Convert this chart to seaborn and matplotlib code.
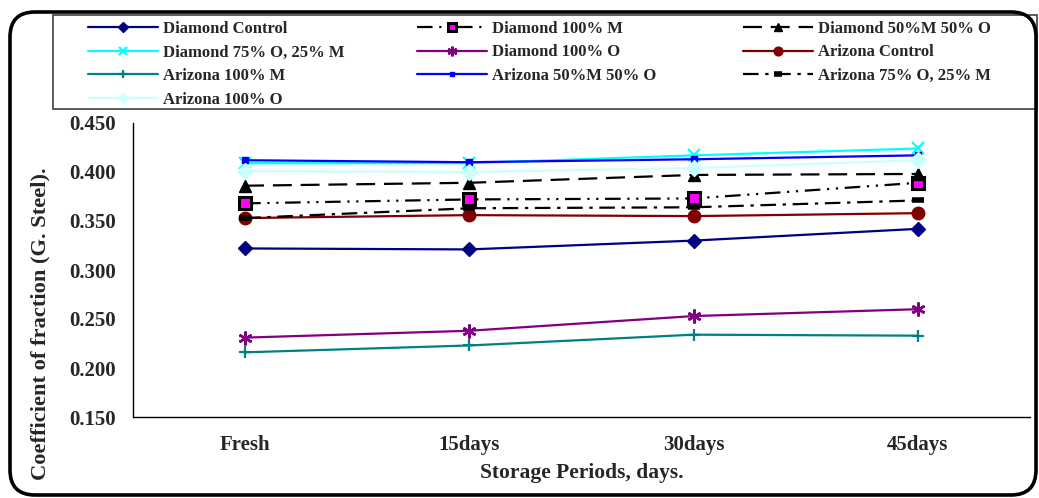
import numpy as np
import pandas as pd
import matplotlib
matplotlib.use("Agg")
import matplotlib.pyplot as plt
from matplotlib.patches import FancyBboxPatch, Rectangle
import seaborn as sns

categories = ["Fresh", "15days", "30days", "45days"]

diamond_control = [0.322, 0.321, 0.330, 0.342]
diamond_100m = [0.368, 0.372, 0.373, 0.389]
diamond_50m50o = [0.386, 0.389, 0.397, 0.398]
diamond_75o25m = [0.409, 0.409, 0.417, 0.424]
diamond_100o = [0.231, 0.238, 0.253, 0.260]
arizona_control = [0.353, 0.356, 0.355, 0.358]
arizona_100m = [0.216, 0.223, 0.234, 0.233]
arizona_50m50o = [0.412, 0.410, 0.413, 0.417]
arizona_75o25m = [0.353, 0.363, 0.364, 0.371]
arizona_100o = [0.401, 0.400, 0.404, 0.412]

series_names = [
    "Diamond Control", "Diamond 100% M", "Diamond 50%M 50% O",
    "Diamond 75% O, 25% M", "Diamond 100% O", "Arizona Control",
    "Arizona 100% M", "Arizona 50%M 50% O", "Arizona 75% O, 25% M",
    "Arizona 100% O",
]
series_values = [
    diamond_control, diamond_100m, diamond_50m50o, diamond_75o25m,
    diamond_100o, arizona_control, arizona_100m, arizona_50m50o,
    arizona_75o25m, arizona_100o,
]

styles = [
    dict(color="#000080", linestyle="-", marker="D", markersize=7,
         markerfacecolor="#000080", markeredgecolor="#000080", markeredgewidth=1),
    dict(color="black", linestyle=(0, (7, 3, 1, 3, 1, 3)), marker="s", markersize=8,
         markerfacecolor="#FF00FF", markeredgecolor="black", markeredgewidth=2.2),
    dict(color="black", linestyle=(0, (8.5, 4)), marker="^", markersize=8,
         markerfacecolor="black", markeredgecolor="black", markeredgewidth=1),
    dict(color="#00FFFF", linestyle="-", marker="x", markersize=8,
         markerfacecolor="#00FFFF", markeredgecolor="#00FFFF", markeredgewidth=1.6),
    dict(color="#800080", linestyle="-", marker=(6, 2, 0), markersize=10,
         markerfacecolor="#800080", markeredgecolor="#800080", markeredgewidth=1.8),
    dict(color="#800000", linestyle="-", marker="o", markersize=9,
         markerfacecolor="#800000", markeredgecolor="#800000", markeredgewidth=1),
    dict(color="#008080", linestyle="-", marker="+", markersize=9,
         markerfacecolor="#008080", markeredgecolor="#008080", markeredgewidth=1.6),
    dict(color="#0000FF", linestyle="-", marker="s", markersize=4,
         markerfacecolor="#0000FF", markeredgecolor="#0000FF", markeredgewidth=1),
    dict(color="black", linestyle=(0, (7, 3, 1.5, 3)), marker="_", markersize=9,
         markerfacecolor="black", markeredgecolor="black", markeredgewidth=4),
    dict(color="#CCFFFF", linestyle="-", marker="D", markersize=8,
         markerfacecolor="#CCFFFF", markeredgecolor="#CCFFFF", markeredgewidth=1),
]

sns.set_style("white")
plt.rcParams["font.family"] = ["Liberation Serif", "DejaVu Serif"]
plt.rcParams["font.weight"] = "bold"

W, H = 1039, 498
fig = plt.figure(figsize=(W / 100, H / 100), dpi=100)
ax = fig.add_axes([133 / W, 1 - 417 / H, (1030 - 133) / W, (417 - 123) / H])

xpos = np.arange(len(categories))
for name, vals, st in zip(series_names, series_values, styles):
    df = pd.DataFrame({"x": xpos, "y": vals})
    sns.lineplot(data=df, x="x", y="y", ax=ax, label=name, linewidth=1.6, **st)

ax.set_xlim(-0.5, len(categories) - 0.5)
ax.set_ylim(0.15, 0.45)
yt = np.arange(0.15, 0.4501, 0.05)
ax.set_yticks(yt)
ax.set_yticklabels([f"{v:.3f}" for v in yt])
ax.set_xticks(xpos)
ax.set_xticklabels(categories)
ax.set_xticks(np.arange(-0.5, len(categories), 1.0), minor=True)
ax.tick_params(axis="x", which="major", length=0, pad=13, labelsize=15)
ax.tick_params(axis="x", which="minor", length=5, width=1, direction="out", color="black")
ax.tick_params(axis="y", which="major", length=6, width=1, direction="out", color="black",
               labelsize=15, pad=6)
for lbl in ax.get_xticklabels() + ax.get_yticklabels():
    lbl.set_fontweight("bold")

for s in ["top", "right"]:
    ax.spines[s].set_visible(False)
for s in ["left", "bottom"]:
    ax.spines[s].set_color("black")
    ax.spines[s].set_linewidth(1)

ax.set_xlabel("Storage Periods, days.", fontsize=15.5, fontweight="bold", labelpad=6)
ax.set_ylabel("Coefficient of fraction (G. Steel).", fontsize=16.2, fontweight="bold")
ax.yaxis.set_label_coords((50 - 133) / (1030 - 133), 0.316)

handles, labels = ax.get_legend_handles_labels()
ax.get_legend().remove()

columns = [[0, 3, 6, 9], [1, 4, 7], [2, 5, 8]]
col_x = [88, 417, 743]
for idxs, cx in zip(columns, col_x):
    lg = fig.legend([handles[i] for i in idxs], [labels[i] for i in idxs],
                    loc="upper left", bbox_to_anchor=(cx / W, 1 - 21 / H),
                    frameon=False, borderpad=0, borderaxespad=0, markerscale=0.7,
                    handlelength=4.2, handletextpad=0.3, labelspacing=0.45,
                    prop={"weight": "bold", "size": 12})

fig.patches.append(Rectangle((53 / W, 1 - 109 / H), (1037 - 53) / W, (109 - 15) / H,
                             transform=fig.transFigure, facecolor="none",
                             edgecolor="#404040", linewidth=1.2, zorder=5))

frame = FancyBboxPatch((0.1, 0.03), 10.26, 4.83,
                       boxstyle="round,pad=0,rounding_size=0.25",
                       transform=fig.dpi_scale_trans, facecolor="none",
                       edgecolor="black", linewidth=2.6, zorder=10)
fig.patches.append(frame)

fig.savefig("out.png", dpi=100)
